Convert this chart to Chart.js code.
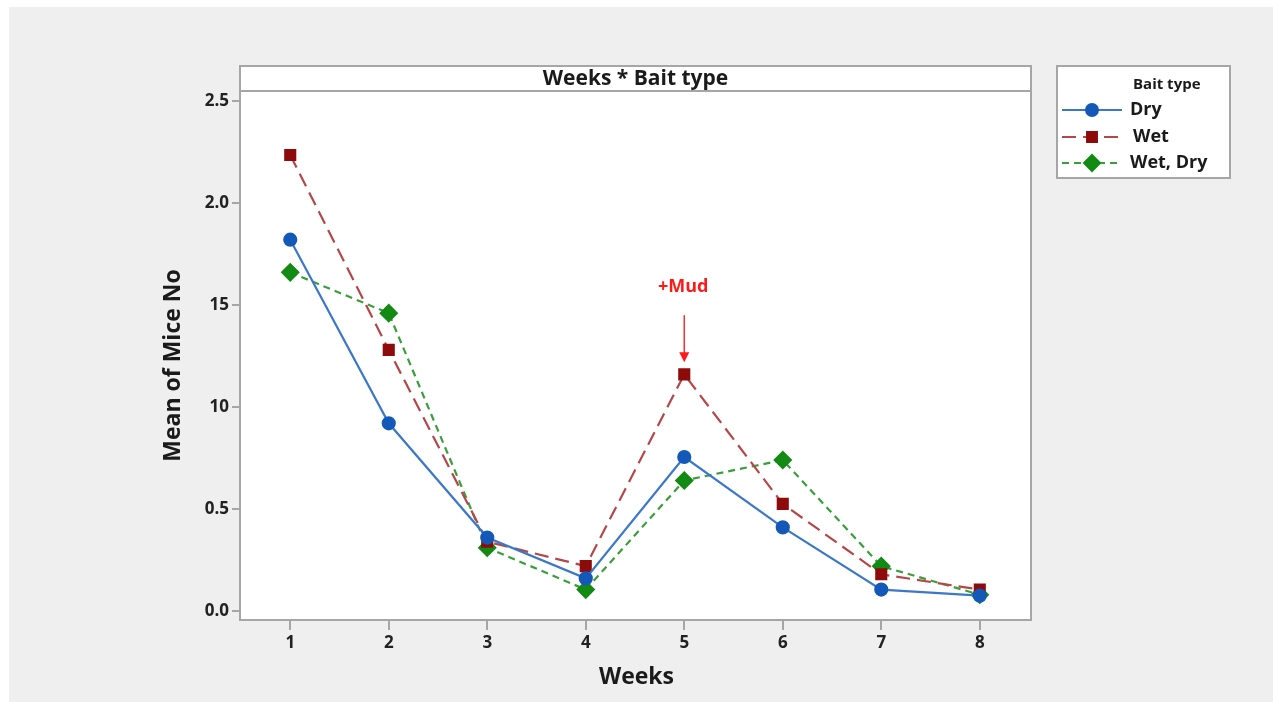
<!DOCTYPE html>
<html>
<head>
<meta charset="utf-8">
<script src="https://cdn.jsdelivr.net/npm/chart.js@4.4.0/dist/chart.umd.min.js"></script>
<style>
  html, body { margin: 0; padding: 0; background: #ffffff; }
  #wrap { position: absolute; left: 0; top: 0; width: 1273px; height: 702px; }
</style>
</head>
<body>
<div id="wrap"><canvas id="miceChart" width="1273" height="702"></canvas></div>
<script>
const weeks = [1, 2, 3, 4, 5, 6, 7, 8];
const dryValues = [1.82, 0.92, 0.36, 0.16, 0.755, 0.41, 0.105, 0.075];
const wetValues = [2.235, 1.28, 0.34, 0.22, 1.16, 0.525, 0.18, 0.105];
const wetDryValues = [1.66, 1.46, 0.31, 0.105, 0.64, 0.74, 0.22, 0.08];
const yTickValues = [0, 0.5, 1, 1.5, 2, 2.5];
const yTickLabels = ["0.0", "0.5", "10", "15", "2.0", "2.5"];
const seriesNames = ["Dry", "Wet", "Wet, Dry"];

const mudWeek = 5;
const mudText = "+Mud";
const mudTextValue = 1.59;
const mudArrowFrom = 1.45;
const mudArrowTo = 1.22;

const FONT = "'Open Sans', 'Noto Sans', sans-serif";

function toPoints(vals) {
  return weeks.map((w, i) => ({ x: w, y: vals[i] }));
}

// background, plot frame, header, legend and annotation
const decorPlugin = {
  id: "decor",
  beforeDraw(chart) {
    const ctx = chart.ctx;
    const a = chart.chartArea;
    ctx.save();
    ctx.fillStyle = "#efefef";
    ctx.fillRect(9, 7, chart.width - 9, chart.height - 7);
    ctx.fillStyle = "#ffffff";
    ctx.fillRect(a.left, 66, a.right - a.left, a.bottom - 66);
    ctx.restore();
  },
  afterDraw(chart) {
    const ctx = chart.ctx;
    const a = chart.chartArea;
    const xs = chart.scales.x;
    const ys = chart.scales.y;
    ctx.save();
    ctx.strokeStyle = "#a6a6a6";
    ctx.lineWidth = 2;
    ctx.strokeRect(a.left, 66, a.right - a.left, a.bottom - 66);
    ctx.beginPath();
    ctx.moveTo(a.left, a.top);
    ctx.lineTo(a.right, a.top);
    ctx.stroke();

    ctx.fillStyle = "#1a1a1a";
    ctx.font = "bold 21px " + FONT;
    ctx.textAlign = "center";
    ctx.textBaseline = "middle";
    ctx.fillText("Weeks * Bait type", (a.left + a.right) / 2, 79);

    // legend
    const lx = 1057, ly = 66, lw = 173, lh = 112;
    ctx.fillStyle = "#ffffff";
    ctx.fillRect(lx, ly, lw, lh);
    ctx.strokeStyle = "#a6a6a6";
    ctx.lineWidth = 2;
    ctx.strokeRect(lx, ly, lw, lh);
    ctx.fillStyle = "#1a1a1a";
    ctx.font = "bold 15px " + FONT;
    ctx.textAlign = "left";
    ctx.fillText("Bait type", 1133, 85);
    const rowsY = [110, 137, 163];
    const textX = [1130, 1133, 1130];
    chart.data.datasets.forEach((ds, i) => {
      const y = rowsY[i];
      ctx.strokeStyle = ds.borderColor;
      ctx.lineWidth = 2;
      ctx.setLineDash(ds.borderDash || []);
      ctx.beginPath();
      ctx.moveTo(1062, y);
      ctx.lineTo(1122, y);
      ctx.stroke();
      ctx.setLineDash([]);
      ctx.fillStyle = ds.pointBackgroundColor;
      ctx.strokeStyle = ds.pointBorderColor;
      Chart.helpers.drawPoint(ctx, {
        pointStyle: ds.pointStyle, radius: ds.pointRadius, borderWidth: 1, rotation: 0
      }, 1092, y);
      ctx.fillStyle = "#1a1a1a";
      ctx.font = "bold 18px " + FONT;
      ctx.fillText(ds.label, textX[i], y);
    });

    // axis titles
    ctx.font = "bold 23px " + FONT;
    ctx.textAlign = "center";
    ctx.fillText("Weeks", (a.left + a.right) / 2 + 1, 677);
    ctx.save();
    ctx.translate(173, (a.top + a.bottom) / 2 + 10);
    ctx.rotate(-Math.PI / 2);
    ctx.fillText("Mean of Mice No", 0, 0);
    ctx.restore();

    // +Mud annotation
    const mx = xs.getPixelForValue(mudWeek);
    ctx.fillStyle = "#ff1a1a";
    ctx.font = "bold 18px " + FONT;
    ctx.fillText(mudText, mx - 1, ys.getPixelForValue(mudTextValue));
    const y1 = ys.getPixelForValue(mudArrowFrom);
    const y2 = ys.getPixelForValue(mudArrowTo);
    ctx.strokeStyle = "#ff2a2a";
    ctx.lineWidth = 1.5;
    ctx.beginPath();
    ctx.moveTo(mx, y1);
    ctx.lineTo(mx, y2 - 8);
    ctx.stroke();
    ctx.beginPath();
    ctx.moveTo(mx - 5, y2 - 10);
    ctx.lineTo(mx + 5, y2 - 10);
    ctx.lineTo(mx, y2);
    ctx.closePath();
    ctx.fill();
    ctx.restore();
  }
};

const tickFont = { family: FONT, size: 17, weight: "bold" };

new Chart(document.getElementById("miceChart"), {
  type: "line",
  data: {
    datasets: [
      {
        label: seriesNames[0],
        data: toPoints(dryValues),
        borderColor: "#3b78c8",
        borderWidth: 2.2,
        pointStyle: "circle",
        pointRadius: 6,
        pointBackgroundColor: "#1459b8",
        pointBorderColor: "#1459b8",
        tension: 0
      },
      {
        label: seriesNames[1],
        data: toPoints(wetValues),
        borderColor: "#b5474a",
        borderWidth: 2.2,
        borderDash: [14, 7],
        pointStyle: "rect",
        pointRadius: 7,
        pointBackgroundColor: "#8e0b0b",
        pointBorderColor: "#8e0b0b",
        tension: 0
      },
      {
        label: seriesNames[2],
        data: toPoints(wetDryValues),
        borderColor: "#3a9e3a",
        borderWidth: 2.2,
        borderDash: [7, 5],
        pointStyle: "rectRot",
        pointRadius: 8,
        pointBackgroundColor: "#138a13",
        pointBorderColor: "#138a13",
        tension: 0
      }
    ]
  },
  options: {
    responsive: false,
    animation: false,
    layout: { padding: { left: 0, top: 91, right: 242, bottom: 0 } },
    plugins: {
      legend: { display: false },
      title: { display: false },
      tooltip: { enabled: false }
    },
    scales: {
      x: {
        type: "linear",
        min: 0.49,
        max: 8.52,
        afterFit(scale) { scale.height = 82; },
        afterBuildTicks(scale) { scale.ticks = weeks.map(v => ({ value: v })); },
        grid: { drawOnChartArea: false, drawTicks: true, tickLength: 10, color: "#a6a6a6", lineWidth: 2 },
        border: { display: false },
        ticks: { font: tickFont, color: "#222", padding: 3, callback: v => String(v) }
      },
      y: {
        type: "linear",
        min: -0.044,
        max: 2.549,
        afterFit(scale) { scale.width = 240; },
        afterBuildTicks(scale) { scale.ticks = yTickValues.map(v => ({ value: v })); },
        grid: { drawOnChartArea: false, drawTicks: true, tickLength: 8, color: "#a6a6a6", lineWidth: 2 },
        border: { display: false },
        ticks: {
          font: tickFont, color: "#222", padding: 3,
          callback: v => yTickLabels[yTickValues.indexOf(v)]
        }
      }
    }
  },
  plugins: [decorPlugin]
});
</script>
</body>
</html>
